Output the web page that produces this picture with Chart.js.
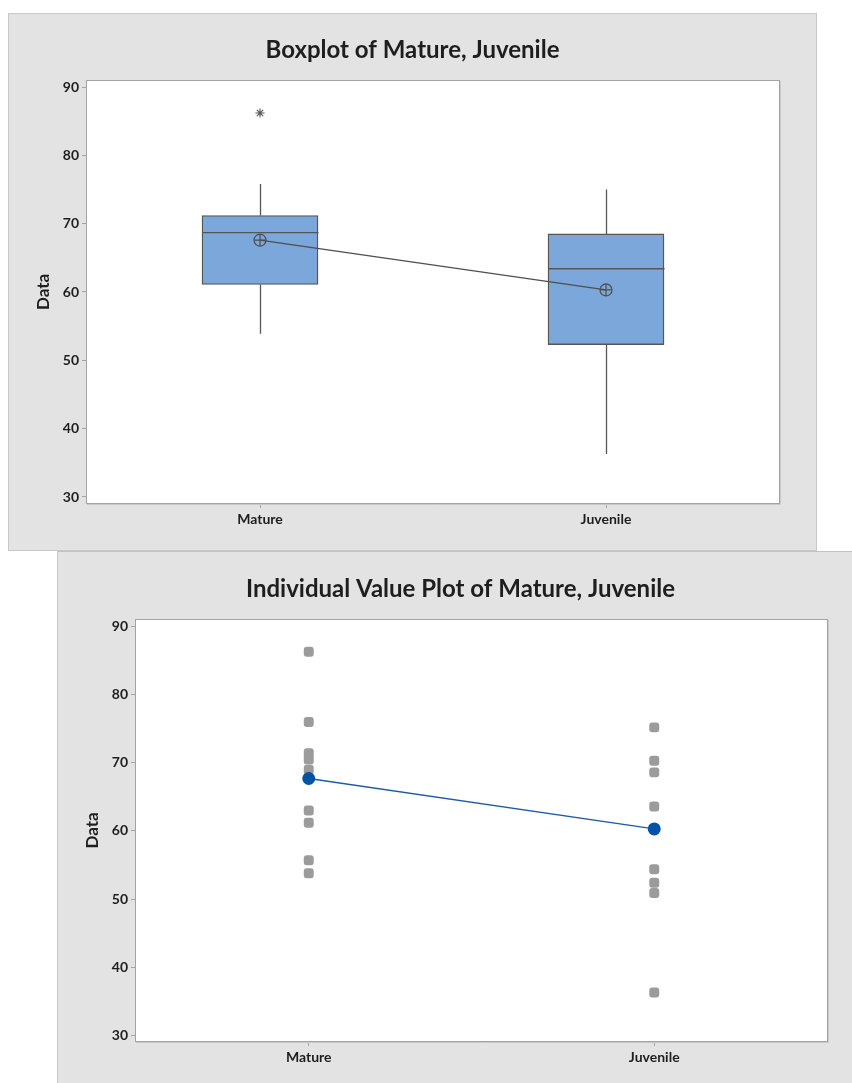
<!DOCTYPE html>
<html>
<head>
<meta charset="utf-8">
<script src="https://cdn.jsdelivr.net/npm/chart.js@4"></script>
<style>
  html, body { margin: 0; background: #fff; overflow: hidden; }
  .panel { position: absolute; background: #e3e3e3; border: 1px solid #c8c8c8; }
  #p1 { left: 8px; top: 13px; width: 807px; height: 536px; }
  #p2 { left: 57px; top: 551px; width: 800px; height: 535px; border-top-color: #c2c2c2; }
  canvas { display: block; }
</style>
</head>
<body>
<div class="panel" id="p1"><canvas id="boxChart" width="807" height="536"></canvas></div>
<div class="panel" id="p2"><canvas id="valueChart" width="794" height="531"></canvas></div>
<script>
// groups
const categories = ['Mature', 'Juvenile'];

// boxplot summary
const boxMin = [53.9, 36.3];
const boxQ1 = [61.1, 52.3];
const boxMedian = [68.7, 63.4];
const boxQ3 = [71.2, 68.5];
const boxMax = [75.8, 75.0];
const boxMean = [67.6, 60.3];
const outliers = [[86.2], []];

// individual values
const matureValues = [86.3, 76.0, 71.4, 70.5, 69.0, 63.0, 61.2, 55.7, 53.8];
const juvenileValues = [75.2, 70.3, 68.6, 63.6, 54.4, 52.4, 50.9, 36.3];
const valueMean = [67.7, 60.3];

const yTicks = [30, 40, 50, 60, 70, 80, 90];

const FONT = 'Lato, "Open Sans", sans-serif';
const INK = '#1e1e1e';
const BOX_LINE = '#565656';

// white plot area + grey frame
const framePlugin = {
  id: 'frame',
  beforeDraw(chart) {
    const {ctx, chartArea: a} = chart;
    ctx.save();
    ctx.fillStyle = '#fff';
    ctx.fillRect(a.left, a.top, a.right - a.left, a.bottom - a.top);
    ctx.restore();
  },
  afterDraw(chart) {
    const {ctx, chartArea: a} = chart;
    ctx.save();
    ctx.strokeStyle = '#a3a3a3';
    ctx.lineWidth = 1;
    ctx.strokeRect(a.left - 0.5, a.top - 0.5, a.right - a.left + 1, a.bottom - a.top + 1);
    ctx.strokeStyle = '#c9c9c9';
    ctx.beginPath();
    ctx.moveTo(a.right + 1.5, a.top);
    ctx.lineTo(a.right + 1.5, a.bottom + 1.5);
    ctx.lineTo(a.left, a.bottom + 1.5);
    ctx.stroke();
    ctx.restore();
  }
};

// whiskers and median line on top of the boxes
const whiskerPlugin = {
  id: 'whiskers',
  afterDatasetDraw(chart, args) {
    if (args.index !== 0) return;
    const ctx = chart.ctx;
    const x = chart.scales.x, y = chart.scales.y;
    const meta = chart.getDatasetMeta(0);
    ctx.save();
    ctx.strokeStyle = BOX_LINE;
    ctx.lineWidth = 1.3;
    categories.forEach((c, i) => {
      const cx = Math.round(x.getPixelForValue(i)) + 0.5;
      const half = meta.data[i].width / 2;
      const ym = y.getPixelForValue(boxMedian[i]);
      ctx.beginPath();
      ctx.moveTo(cx, y.getPixelForValue(boxQ3[i]));
      ctx.lineTo(cx, y.getPixelForValue(boxMax[i]));
      ctx.moveTo(cx, y.getPixelForValue(boxQ1[i]));
      ctx.lineTo(cx, y.getPixelForValue(boxMin[i]));
      ctx.moveTo(cx - half, ym);
      ctx.lineTo(cx + half, ym);
      ctx.stroke();
    });
    ctx.restore();
  }
};

// yLeft: width of the left axis, yRight: empty margin right of the plot
function axes(yMin, yMax, xHeight, yLeft, yRight, titlePad) {
  return {
    x: {
      type: 'category',
      labels: categories,
      offset: true,
      grid: { display: true, drawOnChartArea: false, drawTicks: true, tickLength: 5, color: '#a3a3a3', offset: false },
      border: { display: false },
      ticks: { color: INK, font: { family: FONT, size: 14, weight: 'bold' }, padding: 3, maxRotation: 0 },
      afterFit(scale) { scale.height = xHeight; }
    },
    y: {
      min: yMin,
      max: yMax,
      grid: { display: true, drawOnChartArea: false, drawTicks: true, tickLength: 5, color: '#a3a3a3' },
      border: { display: false },
      ticks: { stepSize: 10, includeBounds: false, color: INK, font: { family: FONT, size: 14, weight: 'bold' }, padding: 3 },
      afterBuildTicks(scale) { scale.ticks = yTicks.map(v => ({ value: v })); },
      title: { display: true, text: 'Data', color: INK, font: { family: FONT, size: 17, weight: 'bold' }, padding: { top: titlePad, bottom: 0 } },
      afterFit(scale) { scale.width = yLeft; }
    },
    yr: {
      position: 'right',
      min: yMin,
      max: yMax,
      grid: { display: false },
      border: { display: false },
      ticks: { display: false },
      afterFit(scale) { scale.width = yRight; }
    }
  };
}

function titleOpts(text, top) {
  return {
    display: true,
    text: text,
    color: INK,
    font: { family: FONT, size: 24, weight: 'bold', lineHeight: 1.2 },
    padding: { top: top, bottom: 16.2 }
  };
}

const outlierPoints = [];
outliers.forEach((list, i) => list.forEach(v => outlierPoints.push({ x: categories[i], y: v })));

new Chart('boxChart', {
  type: 'bar',
  data: {
    labels: categories,
    datasets: [
      {
        type: 'bar',
        data: categories.map((c, i) => [boxQ1[i], boxQ3[i]]),
        backgroundColor: '#7ca7da',
        borderColor: BOX_LINE,
        borderWidth: 1.4,
        borderSkipped: false,
        barThickness: 116,
        order: 3
      },
      {
        type: 'line',
        data: boxMean,
        borderColor: '#4e4e4e',
        borderWidth: 1.2,
        pointStyle: 'circle',
        pointRadius: 6,
        pointBackgroundColor: 'rgba(0,0,0,0)',
        pointBorderColor: '#4e4e4e',
        pointBorderWidth: 1.2,
        order: 1
      },
      {
        type: 'line',
        data: boxMean,
        showLine: false,
        pointStyle: 'cross',
        pointRadius: 6,
        pointBorderColor: '#4e4e4e',
        pointBorderWidth: 1.2,
        order: 0
      },
      {
        type: 'line',
        data: outlierPoints,
        showLine: false,
        pointStyle: 'star',
        pointRadius: 4.5,
        pointBorderColor: '#555',
        pointBorderWidth: 1.1,
        order: 0
      }
    ]
  },
  options: {
    responsive: false,
    animation: false,
    layout: { padding: 0 },
    plugins: {
      legend: { display: false },
      tooltip: { enabled: false },
      title: titleOpts('Boxplot of Mature, Juvenile', 22)
    },
    scales: axes(29.12, 90.88, 47, 78, 37, 24)
  },
  plugins: [framePlugin, whiskerPlugin]
});

new Chart('valueChart', {
  type: 'line',
  data: {
    labels: categories,
    datasets: [
      {
        data: matureValues.map(v => ({ x: 'Mature', y: v })),
        showLine: false,
        pointStyle: 'rectRounded',
        pointRadius: 5.8,
        pointBackgroundColor: '#9b9b9b',
        pointBorderWidth: 0,
        order: 2
      },
      {
        data: juvenileValues.map(v => ({ x: 'Juvenile', y: v })),
        showLine: false,
        pointStyle: 'rectRounded',
        pointRadius: 5.8,
        pointBackgroundColor: '#9b9b9b',
        pointBorderWidth: 0,
        order: 2
      },
      {
        data: valueMean,
        borderColor: '#1c5ba8',
        borderWidth: 1.3,
        pointStyle: 'circle',
        pointRadius: 6.5,
        pointBackgroundColor: '#0252a5',
        pointBorderWidth: 0,
        order: 0
      }
    ]
  },
  options: {
    responsive: false,
    animation: false,
    layout: { padding: { left: 11, right: 0, top: 0, bottom: 0 } },
    plugins: {
      legend: { display: false },
      tooltip: { enabled: false },
      title: titleOpts('Individual Value Plot of Mature, Juvenile', 23)
    },
    scales: axes(29.19, 90.95, 42, 67, 25, 13)
  },
  plugins: [framePlugin]
});
</script>
</body>
</html>
